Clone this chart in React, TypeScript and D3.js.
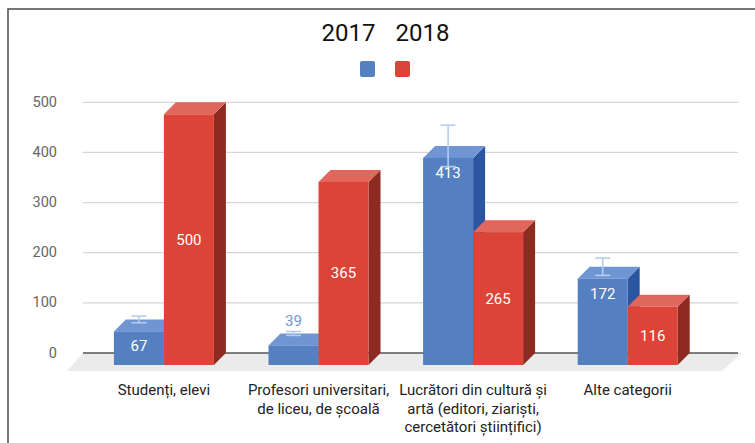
import React from "react";
import * as d3 from "d3";

const categories: string[][] = [
  ["Studenți, elevi"],
  ["Profesori universitari,", "de liceu, de școală"],
  ["Lucrători din cultură și", "artă (editori, ziariști,", "cercetători științifici)"],
  ["Alte categorii"],
];
const values2017 = [67, 39, 413, 172];
const values2018 = [500, 365, 265, 116];
const errors2017 = [6.7, 3.9, 41.3, 17.2];
const yTicks = [0, 100, 200, 300, 400, 500];
const seriesNames = ["2017", "2018"];

const FONT = "Roboto, 'Noto Sans', sans-serif";
const DX = 12;
const DY = 12;
const BAR_W = 50;

const COLORS = [
  { front: "#547fc1", top: "#6f96d3", side: "#2c55a1", label: "#ffffff", outside: "#6f9ad8" },
  { front: "#db4437", top: "#e1675d", side: "#8d2a22", label: "#ffffff", outside: "#db4437" },
];

export default function App() {
  const W = 755;
  const H = 443;
  const keys = categories.map((c) => c.join(" "));
  const x = d3.scaleBand<string>().domain(keys).range([86.6, 705]).padding(0);
  const yFront = d3.scaleLinear().domain([0, 500]).range([365, 114.3]);
  const yBack = d3.scaleLinear().domain([0, 500]).range([353, 102.3]);

  const gridX0 = 83;
  const gridX1 = 738;
  const floorFront = 371;
  const floorDx = 16;

  const bars: React.ReactNode[] = [];
  keys.forEach((k, i) => {
    const center = (x(k) as number) + x.bandwidth() / 2;
    [values2017[i], values2018[i]].forEach((v, s) => {
      const c = COLORS[s];
      const x0 = center - BAR_W + s * BAR_W;
      const x1 = x0 + BAR_W;
      const yt = yFront(v);
      const yb = yFront(0);
      bars.push(
        <g key={`b${i}-${s}`}>
          <polygon
            points={`${x1},${yt} ${x1 + DX},${yt - DY} ${x1 + DX},${yb - DY} ${x1},${yb}`}
            fill={c.side}
          />
          <polygon
            points={`${x0},${yt} ${x0 + DX},${yt - DY} ${x1 + DX},${yt - DY} ${x1},${yt}`}
            fill={c.top}
          />
          <rect x={x0} y={yt} width={BAR_W} height={yb - yt} fill={c.front} />
        </g>
      );
    });
  });

  const overlays: React.ReactNode[] = [];
  keys.forEach((k, i) => {
    const center = (x(k) as number) + x.bandwidth() / 2;
    // error bars for 2017
    const cx0 = center - BAR_W / 2;
    const v = values2017[i];
    const e = errors2017[i];
    const eTop = yBack(v + e);
    const eBot = yBack(v - e);
    overlays.push(
      <g key={`e${i}`} stroke="#b6ccee" strokeWidth={1.6} fill="none">
        <line x1={cx0} x2={cx0} y1={eTop} y2={eBot} />
        <line x1={cx0 - 7.5} x2={cx0 + 7.5} y1={eTop} y2={eTop} />
        <line x1={cx0 - 7.5} x2={cx0 + 7.5} y1={eBot} y2={eBot} />
      </g>
    );
    // labels 2017
    const h0 = yFront(0) - yFront(v);
    if (h0 < 25) {
      overlays.push(
        <text key={`l0${i}`} x={cx0} y={eTop - 10} textAnchor="middle" dominantBaseline="central"
          fontFamily={FONT} fontSize={15} fill={COLORS[0].outside}>{v}</text>
      );
    } else {
      overlays.push(
        <text key={`l0${i}`} x={cx0} y={yFront(v) + 15} textAnchor="middle" dominantBaseline="central"
          fontFamily={FONT} fontSize={15} fill={COLORS[0].label}>{v}</text>
      );
    }
    const v1 = values2018[i];
    const cx1 = center + BAR_W / 2;
    overlays.push(
      <text key={`l1${i}`} x={cx1} y={(yFront(v1) + yFront(0)) / 2} textAnchor="middle" dominantBaseline="central"
        fontFamily={FONT} fontSize={15} fill={COLORS[1].label}>{v1}</text>
    );
    // category labels
    overlays.push(
      <text key={`c${i}`} x={center} textAnchor="middle" fontFamily={FONT} fontSize={15} fill="#222222">
        {categories[i].map((line, j) => (
          <tspan key={j} x={center} y={395 + j * 18.7}>{line}</tspan>
        ))}
      </text>
    );
  });

  return (
    <svg width={W} height={H} style={{ position: "absolute", left: 0, top: 0, background: "#fff" }}>
      <rect x={0} y={0} width={W} height={H} fill="#ffffff" />
      <rect x={8} y={9} width={W + 10} height={H + 10} fill="none" stroke="#4a4a4a" strokeWidth={1.5} />
      {/* title / legend */}
      <text x={348.4} y={41} textAnchor="middle" fontFamily={FONT} fontSize={24} fill="#111">{seriesNames[0]}</text>
      <text x={422.5} y={41} textAnchor="middle" fontFamily={FONT} fontSize={24} fill="#111">{seriesNames[1]}</text>
      <rect x={360} y={61} width={15} height={16} rx={2} fill={COLORS[0].front} />
      <rect x={395} y={61} width={15} height={16} rx={2} fill={COLORS[1].front} />
      {/* floor */}
      <polygon
        points={`${gridX0},${yBack(0)} ${gridX1 + 4},${yBack(0)} ${gridX1 + 4 - floorDx - 4},${floorFront} ${gridX0 - floorDx},${floorFront}`}
        fill="#ebebeb"
      />
      {/* gridlines */}
      {yTicks.map((t) => (
        <g key={t}>
          {t > 0 && (
            <line x1={gridX0} x2={gridX1} y1={yBack(t)} y2={yBack(t)} stroke="#d6d6d6" strokeWidth={1.2} />
          )}
          <text x={57} y={yBack(t)} textAnchor="end" dominantBaseline="central" fontFamily={FONT}
            fontSize={14.5} fill="#666666">{t}</text>
        </g>
      ))}
      <line x1={gridX0} x2={gridX1} y1={yBack(0)} y2={yBack(0)} stroke="#555555" strokeWidth={1.4} />
      {bars}
      {overlays}
    </svg>
  );
}
